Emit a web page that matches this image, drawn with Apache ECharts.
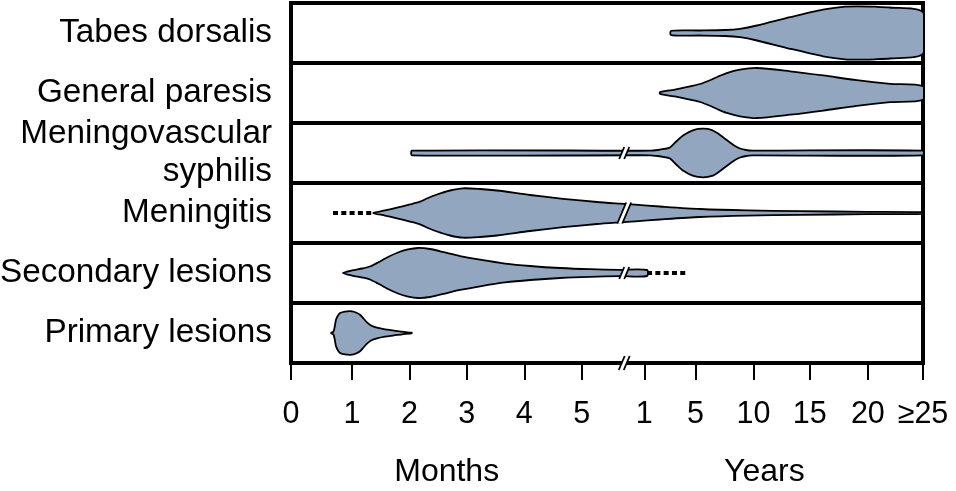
<!DOCTYPE html>
<html><head><meta charset="utf-8">
<script src="https://cdn.jsdelivr.net/npm/echarts@6/dist/echarts.min.js"></script>
<style>html,body{margin:0;padding:0;background:#fff}#c{width:956px;height:491px}</style>
</head><body><div id="c"></div>
<script>
// Rows, top to bottom
const categories = ['Tabes dorsalis', 'General paresis', 'Meningovascular\nsyphilis', 'Meningitis', 'Secondary lesions', 'Primary lesions'];
// x axis: positional scale, 0–5 = months, then years after the break
const tickPositions = [0, 1.06, 2.06, 3.06, 4.06, 5.06, 6.15, 7.04, 8.05, 9.03, 10.04, 11];
const tickLabels = ['0', '1', '2', '3', '4', '5', '1', '5', '10', '15', '20', '≥25'];
const groupPositions = [2.71, 8.24];
const groupLabels = ['Months', 'Years'];
const breakPosition = 5.8;
const breakRows = [2, 3, 4];

// violin profiles: [x position, half-width as fraction of row height]
const tabesProfile = [[6.614,.037],[7.119,.042],[7.554,.05],[7.815,.07],[8.111,.125],[8.686,.263],[9.26,.388],[9.643,.438],[9.852,.445],[10.165,.438],[10.426,.425],[11,.345]];
const paresisProfile = [[6.42,.012],[6.435,.02],[6.684,.058],[6.945,.112],[7.119,.15],[7.293,.213],[7.433,.275],[7.584,.333],[7.815,.388],[8.106,.417],[8.686,.362],[9.265,.292],[9.847,.213],[10.426,.153],[11,.112]];
const meningovascularProfile = [[2.106,.038],[6.249,.038],[6.388,.05],[6.493,.067],[6.597,.092],[6.714,.2],[6.829,.297],[7.003,.383],[7.177,.405],[7.328,.383],[7.433,.325],[7.525,.258],[7.641,.175],[7.728,.117],[7.815,.075],[7.92,.05],[8.024,.04],[11,.038]];
const meningitisProfile = [[1.427,0],[1.636,.042],[1.845,.088],[2.071,.142],[2.245,.188],[2.385,.25],[2.541,.308],[2.768,.375],[2.994,.412],[3.29,.4],[3.586,.375],[4.16,.3],[4.735,.237],[5.326,.183],[5.727,.155],[5.988,.138],[6.423,.108],[7.119,.067],[7.937,.043],[8.86,.03],[10.026,.02],[11,.013]];
const secondaryProfile = [[.905,0],[1.062,.042],[1.236,.075],[1.375,.108],[1.514,.175],[1.688,.267],[1.862,.342],[2.037,.392],[2.211,.417],[2.419,.4],[2.681,.342],[2.942,.283],[3.29,.222],[3.725,.158],[4.16,.117],[4.682,.083],[5.205,.063],[5.727,.053],[6.197,.05]];
const primaryProfile = [[.696,0],[.74,.025],[.766,.133],[.783,.222],[.818,.292],[.853,.333],[.94,.358],[1.062,.362],[1.131,.342],[1.201,.305],[1.262,.242],[1.318,.18],[1.393,.125],[1.497,.088],[1.636,.06],[1.775,.042],[1.932,.022],[2.101,.005]];
const profiles = [tabesProfile, paresisProfile, meningovascularProfile, meningitisProfile, secondaryProfile, primaryProfile];

// dotted extensions
const meningitisDots = [0.731, 1.427];
const secondaryDots = [6.197, 6.893];

const FONT = 'Liberation Sans, Arial, Helvetica, sans-serif';
const FILL = '#93a6c0';

function interp(prof, x) {
  for (let i = 0; i < prof.length - 1; i++) {
    if (x >= prof[i][0] && x <= prof[i+1][0]) {
      const t = (x - prof[i][0]) / (prof[i+1][0] - prof[i][0]);
      return prof[i][1] + t * (prof[i+1][1] - prof[i][1]);
    }
  }
  return 0;
}

function renderViolin(params, api) {
  const row = api.value(1);
  const prof = profiles[row];
  const band = api.size([0, 1])[1];
  const top = [], bot = [];
  prof.forEach(function (p, i) {
    const c = api.coord([p[0], row]);
    top.push([c[0], c[1] - p[1] * band]);
    if (!(p[1] === 0 && (i === 0 || i === prof.length - 1))) bot.push([c[0], c[1] + p[1] * band]);
  });
  const pts = top.concat(bot.reverse());
  return {
    type: 'polygon',
    shape: { points: pts, smooth: 0.25 },
    style: { fill: FILL, stroke: '#000', lineWidth: 1.8, lineJoin: 'round' }
  };
}

function breakMark(x, y, h) {
  const s = 0.42, g = 5;
  const a = [x - g/2 - s*h, y + h], b = [x - g/2 + s*h, y - h];
  const c = [x + g/2 + s*h, y - h], d = [x + g/2 - s*h, y + h];
  return {
    type: 'group',
    children: [
      { type: 'polygon', shape: { points: [a, b, c, d] }, style: { fill: '#fff' } },
      { type: 'line', shape: { x1: a[0], y1: a[1], x2: b[0], y2: b[1] }, style: { stroke: '#000', lineWidth: 1.8 } },
      { type: 'line', shape: { x1: d[0], y1: d[1], x2: c[0], y2: c[1] }, style: { stroke: '#000', lineWidth: 1.8 } }
    ]
  };
}

function renderBreak(params, api) {
  const row = api.value(1);
  const band = api.size([0, 1])[1];
  const c = api.coord([api.value(0), row]);
  const h = Math.max(6, interp(profiles[row], api.value(0)) * band + 1.5);
  return breakMark(c[0], c[1], h);
}

function renderAxisBreak(params, api) {
  const row = api.value(1);
  const band = api.size([0, 1])[1];
  const c = api.coord([api.value(0), row]);
  return breakMark(c[0], c[1] + band / 2, 7);
}

function labelAt(positions, labels) {
  return function (v) {
    let best = 0, bd = Infinity;
    positions.forEach(function (p, i) { const d = Math.abs(p - v); if (d < bd) { bd = d; best = i; } });
    return labels[best];
  };
}

const chart = echarts.init(document.getElementById('c'), null, { renderer: 'canvas' });
chart.setOption({
  animation: false,
  backgroundColor: '#fff',
  grid: { left: 291, right: 33, top: 3, bottom: 128, show: true, borderColor: '#000', borderWidth: 4, outerBoundsMode: 'none', containLabel: false },
  xAxis: [
    {
      type: 'value', min: 0, max: 11, position: 'bottom',
      axisLine: { show: true, lineStyle: { color: '#000', width: 4 } },
      axisTick: { show: true, length: 17, customValues: tickPositions, lineStyle: { color: '#000', width: 2 } },
      axisLabel: { show: true, customValues: tickPositions, formatter: labelAt(tickPositions, tickLabels), margin: 36, fontSize: 30.5, fontFamily: FONT, color: '#000', showMinLabel: true, showMaxLabel: true },
      splitLine: { show: false }
    },
    {
      type: 'value', min: 0, max: 11, position: 'bottom',
      axisLine: { show: false }, axisTick: { show: false }, splitLine: { show: false },
      axisLabel: { show: true, customValues: groupPositions, formatter: labelAt(groupPositions, groupLabels), margin: 93, fontSize: 32, fontFamily: FONT, color: '#000', showMinLabel: true, showMaxLabel: true }
    }
  ],
  yAxis: [
    {
      type: 'category', data: categories, inverse: true, position: 'left', z: 5,
      axisLine: { show: true, lineStyle: { color: '#000', width: 4 } },
      axisTick: { show: false },
      axisLabel: { margin: 19, fontSize: 33.3, lineHeight: 38, fontFamily: FONT, color: '#000', align: 'right' },
      splitLine: { show: true, interval: 0, lineStyle: { color: '#000', width: 4 } }
    },
    {
      type: 'category', data: categories, inverse: true, position: 'right', z: 10,
      axisLine: { show: true, lineStyle: { color: '#000', width: 4 } },
      axisTick: { show: false }, axisLabel: { show: false }, splitLine: { show: false }
    }
  ],
  series: [
    {
      type: 'custom', name: 'violins', z: 3, clip: true,
      renderItem: renderViolin,
      encode: { x: 0, y: 1 },
      data: profiles.map(function (p, i) { return [p[0][0], i]; })
    },
    {
      type: 'line', symbol: 'none', z: 3,
      lineStyle: { color: '#000', width: 4, type: [5, 3.3], cap: 'butt' },
      data: meningitisDots.map(function (x) { return [x, 3]; })
    },
    {
      type: 'line', symbol: 'none', z: 3,
      lineStyle: { color: '#000', width: 4, type: [5, 3.3], cap: 'butt' },
      data: secondaryDots.map(function (x) { return [x, 4]; })
    },
    {
      type: 'custom', name: 'breaks', z: 6,
      renderItem: renderBreak, encode: { x: 0, y: 1 },
      data: breakRows.map(function (r) { return [breakPosition, r]; })
    },
    {
      type: 'custom', name: 'axisBreak', z: 6, clip: false,
      renderItem: renderAxisBreak, encode: { x: 0, y: 1 },
      data: [[breakPosition, categories.length - 1]]
    }
  ]
});
</script>
</body></html>
